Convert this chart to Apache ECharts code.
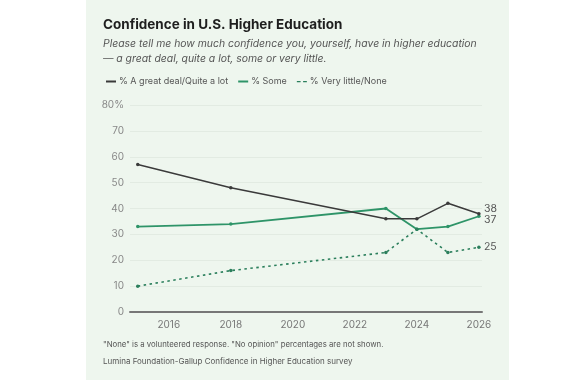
<!DOCTYPE html>
<html>
<head>
<meta charset="utf-8">
<script src="https://cdn.jsdelivr.net/npm/echarts@6/dist/echarts.min.js"></script>
<style>
  html, body { margin: 0; padding: 0; background: #fff; }
  #chart { width: 580px; height: 380px; }
</style>
</head>
<body>
<div id="chart"></div>
<script>
// survey years and percentages
var years = [2015, 2018, 2023, 2024, 2025, 2026];
var greatDeal = [57, 48, 36, 36, 42, 38];
var some = [33, 34, 40, 32, 33, 37];
var veryLittle = [10, 16, 23, 32, 23, 25];
var xTicks = [2016, 2018, 2020, 2022, 2024, 2026];

var FONT = 'Inter, "Noto Sans", sans-serif';
var DARK = '#3a3a3a';
var GREEN = '#2e9468';
var DASH = '#2b7f5c';

function pairs(vals) {
    return years.map(function(y, i){ return [y, vals[i]]; });
}

var chart = echarts.init(document.getElementById('chart'));

var option = {
    backgroundColor: '#fff',
    textStyle: { fontFamily: FONT },
    graphic: [
        {
            type: 'rect', z: -10, silent: true,
            shape: { x: 86, y: 0, width: 423, height: 380 },
            style: { fill: '#eef6ee' }
        },
        {
            type: 'text', left: 103, top: 18,
            style: { text: 'Confidence in U.S. Higher Education', fill: '#1e1e1e',
                font: 'bold 13.5px ' + FONT }
        },
        {
            type: 'text', left: 103, top: 36,
            style: {
                text: 'Please tell me how much confidence you, yourself, have in higher education\n\u2014 a great deal, quite a lot, some or very little.',
                fill: '#555', font: 'italic 10.4px ' + FONT, lineHeight: 15.5
            }
        },
        {
            type: 'text', left: 103, top: 341,
            style: { text: '"None" is a volunteered response. "No opinion" percentages are not shown.',
                fill: '#555', font: '7.8px ' + FONT }
        },
        {
            type: 'text', left: 103, top: 358,
            style: { text: 'Lumina Foundation-Gallup Confidence in Higher Education survey',
                fill: '#555', font: '8px ' + FONT }
        }
    ],
    legend: {
        left: 101, top: 72,
        itemWidth: 10, itemHeight: 2, itemGap: 10,
        textStyle: { color: '#555', fontSize: 9, fontFamily: FONT, padding: [0, 0, 0, -2] },
        data: [
            { name: '% A great deal/Quite a lot', icon: 'rect' },
            { name: '% Some', icon: 'rect' },
            { name: '% Very little/None', icon: 'path://M0,0h3v1h-3z M5,0h3v1h-3z' }
        ]
    },
    grid: { left: 130, right: 98, top: 105, bottom: 68 },
    xAxis: {
        type: 'value',
        min: 2014.75,
        max: 2026.1,
        axisLine: { show: true, lineStyle: { color: '#777', width: 2 } },
        axisTick: { show: false },
        splitLine: { show: false },
        axisLabel: {
            customValues: xTicks,
            color: '#777', fontSize: 10, margin: 8,
            formatter: function(v){ return String(v); }
        }
    },
    yAxis: {
        type: 'value',
        min: 0, max: 80, interval: 10,
        axisLine: { show: false },
        axisTick: { show: false },
        axisLabel: {
            color: '#888', fontSize: 10, margin: 6,
            formatter: function(v){ return v === 80 ? '80%' : String(v); }
        },
        splitLine: { lineStyle: { color: '#e2ebe2', width: 1 } }
    },
    series: [
        {
            name: '% A great deal/Quite a lot',
            type: 'line',
            data: pairs(greatDeal),
            color: DARK,
            symbol: 'circle', symbolSize: 3.5,
            lineStyle: { width: 1.5, color: DARK },
            itemStyle: { color: DARK },
            endLabel: { show: true, color: '#555', fontSize: 10.5, distance: 5, offset: [0, -5],
                formatter: function(p){ return p.value[1]; } },
            z: 3
        },
        {
            name: '% Some',
            type: 'line',
            data: pairs(some),
            color: GREEN,
            symbol: 'circle', symbolSize: 3.5,
            lineStyle: { width: 1.8, color: GREEN },
            itemStyle: { color: GREEN },
            endLabel: { show: true, color: '#555', fontSize: 10.5, distance: 5, offset: [0, 4],
                formatter: function(p){ return p.value[1]; } },
            z: 2
        },
        {
            name: '% Very little/None',
            type: 'line',
            data: pairs(veryLittle),
            color: DASH,
            symbol: 'circle', symbolSize: 3.5,
            lineStyle: { width: 1.6, color: DASH, type: [2.5, 3.5] },
            itemStyle: { color: DASH },
            endLabel: { show: true, color: '#555', fontSize: 10.5, distance: 5,
                formatter: function(p){ return p.value[1]; } },
            z: 2
        }
    ],
    animation: false
};

chart.setOption(option);
</script>
</body>
</html>
